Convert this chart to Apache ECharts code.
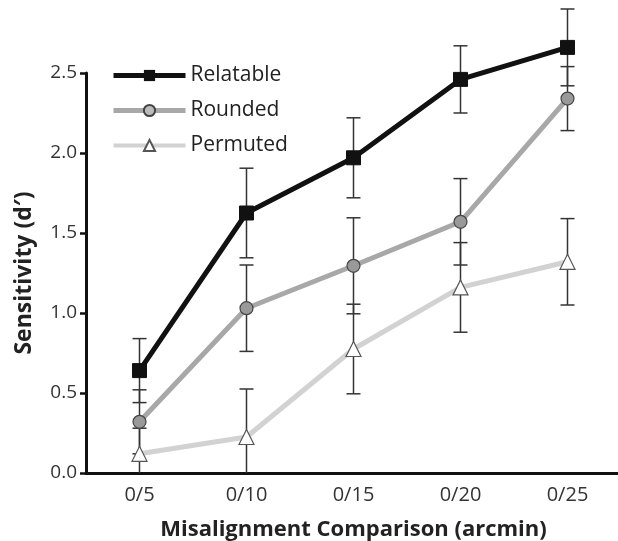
<html>
<head>
<meta charset="UTF-8">
<title>Sensitivity</title>
<script src="https://cdn.jsdelivr.net/npm/echarts@6/dist/echarts.min.js"></script>
<style>
html, body { margin: 0; padding: 0; background: #fff; }
#main { width: 618px; height: 541px; }
</style>
</head>
<body>
<div id="main"></div>
<script type="text/javascript">
var categories = ['0/5', '0/10', '0/15', '0/20', '0/25'];
var yTicks = ['0.0', '0.5', '1.0', '1.5', '2.0', '2.5'];

var relatable = [0.64, 1.625, 1.97, 2.46, 2.66];
var relatableErr = [0.2, 0.28, 0.25, 0.21, 0.24];
var rounded = [0.32, 1.03, 1.295, 1.57, 2.34];
var roundedErr = [0.2, 0.27, 0.3, 0.27, 0.2];
var permuted = [0.12, 0.225, 0.775, 1.16, 1.32];
var permutedErr = [0.16, 0.3, 0.28, 0.28, 0.27];

var myChart = echarts.init(document.getElementById('main'));

// [index, low, high] for each point
function errData(vals, errs) {
	var out = [];
	for (var i = 0; i < vals.length; i++) {
		out.push([i, vals[i] - errs[i], vals[i] + errs[i]]);
	}
	return out;
}

function renderErr(params, api) {
	var hi = api.coord([api.value(0), api.value(2)]);
	var lo = api.coord([api.value(0), Math.max(api.value(1), 0)]);
	var capped = api.value(1) >= 0;
	var w = 7;
	var style = { stroke: '#333', lineWidth: 1.5 };
	var kids = [
		{ type: 'line', shape: { x1: hi[0], y1: hi[1], x2: lo[0], y2: lo[1] }, style: style },
		{ type: 'line', shape: { x1: hi[0] - w, y1: hi[1], x2: hi[0] + w, y2: hi[1] }, style: style }
	];
	if (capped) {
		kids.push({ type: 'line', shape: { x1: lo[0] - w, y1: lo[1], x2: lo[0] + w, y2: lo[1] }, style: style });
	}
	return { type: 'group', children: kids };
}

var fontFam = '"Open Sans", "Noto Sans", sans-serif';

option = {
	backgroundColor: '#fff',
	animation: false,
	grid: { left: 86, right: -3, top: 73, bottom: 68, outerBoundsMode: 'none' },
	legend: {
		orient: 'vertical',
		left: 106,
		top: 60,
		itemWidth: 72,
		itemHeight: 14,
		itemGap: 14,
		textStyle: { fontFamily: fontFam, fontSize: 21, color: '#222' },
		data: [
			{ name: 'Relatable', lineStyle: { width: 5 } },
			{ name: 'Rounded', lineStyle: { width: 5 }, itemStyle: { color: '#bbb' } },
			{ name: 'Permuted', lineStyle: { width: 4 } }
		]
	},
	xAxis: {
		type: 'category',
		data: categories,
		boundaryGap: true,
		name: 'Misalignment Comparison (arcmin)',
		nameLocation: 'middle',
		nameGap: 46,
		nameTextStyle: { fontFamily: fontFam, fontSize: 22, fontWeight: 'bold', color: '#222' },
		axisLine: { lineStyle: { color: '#111', width: 3 } },
		axisTick: { inside: true, length: 8, lineStyle: { color: '#111', width: 2.5 } },
		axisLabel: { fontFamily: fontFam, fontSize: 20, color: '#333', margin: 12 }
	},
	yAxis: {
		type: 'value',
		min: 0,
		max: 2.5,
		interval: 0.5,
		name: 'Sensitivity (d\u2032)',
		nameLocation: 'middle',
		nameGap: 50,
		nameTextStyle: { fontFamily: fontFam, fontSize: 23, fontWeight: 'bold', color: '#222' },
		axisLine: { show: true, lineStyle: { color: '#111', width: 3 } },
		axisTick: { show: true, length: 6, lineStyle: { color: '#111', width: 2.5 } },
		splitLine: { show: false },
		axisLabel: {
			fontFamily: fontFam, fontSize: 19, color: '#333', margin: 9,
			formatter: function (v) { return yTicks[Math.round(v / 0.5)]; }
		}
	},
	series: [
		{
			type: 'custom', name: 'errRel', renderItem: renderErr, data: errData(relatable, relatableErr),
			clip: false, z: 1, silent: true
		},
		{
			type: 'custom', name: 'errRnd', renderItem: renderErr, data: errData(rounded, roundedErr),
			clip: false, z: 1, silent: true
		},
		{
			type: 'custom', name: 'errPer', renderItem: renderErr, data: errData(permuted, permutedErr),
			clip: false, z: 1, silent: true
		},
		{
			name: 'Permuted', type: 'line', data: permuted, z: 3, clip: false,
			symbol: 'triangle', symbolSize: 15,
			lineStyle: { color: '#d2d2d2', width: 5 },
			itemStyle: { color: '#fff', borderColor: '#555', borderWidth: 1.2 }
		},
		{
			name: 'Rounded', type: 'line', data: rounded, z: 4, clip: false,
			symbol: 'circle', symbolSize: 13,
			lineStyle: { color: '#a8a8a8', width: 5 },
			itemStyle: { color: '#999', borderColor: '#444', borderWidth: 1.2 }
		},
		{
			name: 'Relatable', type: 'line', data: relatable, z: 5, clip: false,
			symbol: 'rect', symbolSize: 14,
			lineStyle: { color: '#111', width: 5 },
			itemStyle: { color: '#111', borderColor: '#111' }
		}
	]
};

myChart.setOption(option);
</script>
</body>
</html>
